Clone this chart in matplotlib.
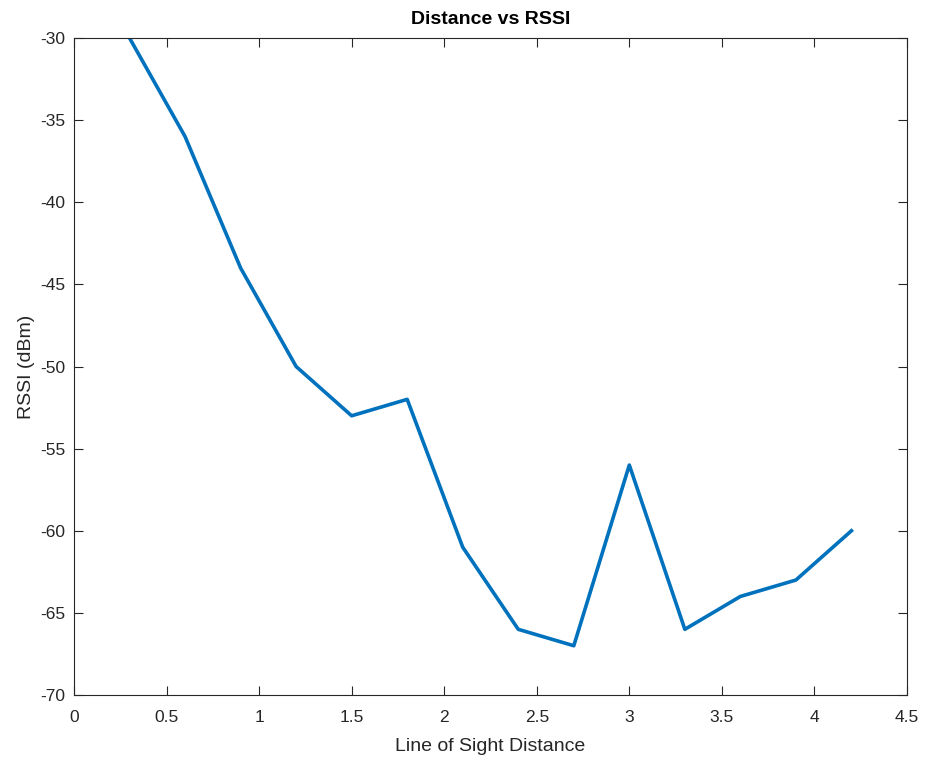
import matplotlib
matplotlib.use("Agg")
import matplotlib.pyplot as plt

plt.rcParams['font.family'] = ['Liberation Sans', 'DejaVu Sans']
plt.rcParams['axes.unicode_minus'] = False

# distance (m) and measured RSSI (dBm)
distance = [0.3, 0.6, 0.9, 1.2, 1.5, 1.8, 2.1, 2.4, 2.7, 3.0, 3.3, 3.6, 3.9, 4.2]
rssi = [-30, -36, -44, -50, -53, -52, -61, -66, -67, -56, -66, -64, -63, -60]

xticks = [0, 0.5, 1, 1.5, 2, 2.5, 3, 3.5, 4, 4.5]
xtick_labels = ['0', '0.5', '1', '1.5', '2', '2.5', '3', '3.5', '4', '4.5']
yticks = [-70, -65, -60, -55, -50, -45, -40, -35, -30]

fig = plt.figure(figsize=(9.25, 7.63), dpi=100)
ax = fig.add_axes([0.08, 0.0891, 0.9005, 0.8611])

ax.plot(distance, rssi, color='#0072BD', linewidth=2.6)

ax.set_xlim(0, 4.5)
ax.set_ylim(-70, -30)
ax.set_xticks(xticks)
ax.set_xticklabels(xtick_labels)
ax.set_yticks(yticks)

ax.tick_params(direction='in', top=True, right=True, length=6.5, width=0.8,
               labelsize=12.5, colors='#262626')
ax.tick_params(axis='y', pad=6)
ax.tick_params(axis='x', pad=11)
for s in ax.spines.values():
    s.set_linewidth(0.8)
    s.set_color('#262626')

ax.set_xlabel('Line of Sight Distance', fontsize=14, color='#262626', labelpad=9)
ax.set_ylabel('RSSI (dBm)', fontsize=14, color='#262626', labelpad=4)
ax.set_title('Distance vs RSSI', fontsize=14, fontweight='bold', pad=10)

fig.savefig('out.png', dpi=100, facecolor='white')
